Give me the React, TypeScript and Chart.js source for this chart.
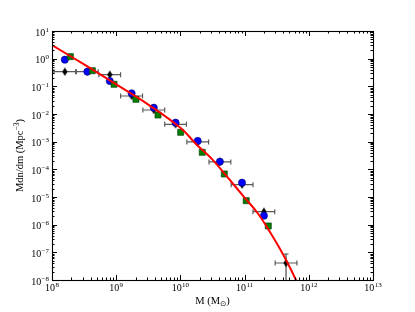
import React, { useEffect, useRef } from "react";
import { Chart, registerables } from "chart.js";

Chart.register(...registerables);

// ---- data (masses in solar masses, densities in Mpc^-3) ----
const binCenters = [1.585e8, 3.55e8, 7.94e8, 1.74e9, 3.85e9, 8.41e9, 1.86e10, 4.12e10, 9.12e10, 2.0e11, 4.42e11];
const binLow = [1.07e8, 2.4e8, 5.37e8, 1.17e9, 2.6e9, 5.69e9, 1.26e10, 2.79e10, 6.17e10, 1.35e11, 2.99e11];
const binHigh = [2.34e8, 5.25e8, 1.17e9, 2.57e9, 5.69e9, 1.24e10, 2.75e10, 6.1e10, 1.35e11, 2.95e11, 6.53e11];
const blackVals = [0.338, 0.338, 0.264, 0.0448, 0.01396, 4.25e-3, 9.77e-4, 1.85e-4, 2.79e-5, 2.95e-6, 4.12e-8];
const blackErrLow: (number | null)[] = [null, null, null, null, null, null, null, null, null, null, 1e-12];
const blackErrHigh: (number | null)[] = [null, null, null, null, null, null, null, null, null, null, 8.7e-8];

const blueVals = [0.918, 0.338, 0.156, 0.056, 0.0169, 4.85e-3, 1.06e-3, 1.89e-4, 3.29e-5, 2.11e-6];

const greenMass = [1.93e8, 4.25e8, 9.25e8, 2.03e9, 4.48e9, 1.01e10, 2.19e10, 4.83e10, 1.06e11, 2.34e11];
const greenVals = [1.18, 0.367, 0.1186, 0.034, 9.2e-3, 2.18e-3, 4.13e-4, 6.8e-5, 7.36e-6, 8.97e-7];

const curveMass = [1e8, 3.16e8, 1e9, 3.16e9, 1e10, 1.78e10, 3.16e10, 5.62e10, 1e11, 1.58e11, 2.51e11, 3.55e11, 5.01e11, 6.31e11, 7.08e11];
const curveVals = [3.09, 0.617, 0.1175, 0.0219, 3.16e-3, 7.94e-4, 2.24e-4, 4.68e-5, 9.55e-6, 2.69e-6, 5.25e-7, 1.35e-7, 3.02e-8, 1e-8, 5.62e-9];

const xDecades = [8, 9, 10, 11, 12, 13];
const yDecades = [-8, -7, -6, -5, -4, -3, -2, -1, 0, 1];
const xTitle = "M (M";
const xTitleSub = "⊙";
const yTitle = "Mdn/dm (Mpc";
const yTitleSup = "−3";

const FONT = '"Liberation Serif", "DejaVu Serif", serif';

function makeDiamond(): HTMLCanvasElement {
  const c = document.createElement("canvas");
  c.width = 6;
  c.height = 9;
  const g = c.getContext("2d")!;
  g.fillStyle = "#000";
  g.beginPath();
  g.moveTo(3, 0.3);
  g.lineTo(5.6, 4.5);
  g.lineTo(3, 8.7);
  g.lineTo(0.4, 4.5);
  g.closePath();
  g.fill();
  return c;
}

function drawPow(ctx: CanvasRenderingContext2D, exp: number, x: number, baseline: number, align: "center" | "right") {
  const base = "10";
  const sup = exp < 0 ? "−" + String(-exp) : String(exp);
  ctx.font = `10px ${FONT}`;
  const bw = ctx.measureText(base).width;
  ctx.font = `7px ${FONT}`;
  const sw = ctx.measureText(sup).width;
  const total = bw + sw + 0.3;
  const x0 = align === "center" ? x - total / 2 : x - total;
  ctx.textAlign = "left";
  ctx.textBaseline = "alphabetic";
  ctx.fillStyle = "#000";
  ctx.font = `10px ${FONT}`;
  ctx.fillText(base, x0, baseline);
  ctx.font = `7px ${FONT}`;
  ctx.fillText(sup, x0 + bw + 0.3, baseline - 4);
}

const mplPlugin = {
  id: "mplAxes",
  beforeDatasetsDraw(chart: any) {
    const { ctx, chartArea: a, scales } = chart;
    const xs = scales.x;
    const ys = scales.y;
    ctx.save();
    ctx.beginPath();
    ctx.rect(a.left, a.top, a.right - a.left, a.bottom - a.top);
    ctx.clip();
    ctx.lineWidth = 1.2;
    for (let i = 0; i < binCenters.length; i++) {
      const y = ys.getPixelForValue(blackVals[i]);
      const x1 = xs.getPixelForValue(binLow[i]);
      const x2 = xs.getPixelForValue(binHigh[i]);
      ctx.strokeStyle = "#5a5a5a";
      ctx.beginPath();
      ctx.moveTo(x1, y);
      ctx.lineTo(x2, y);
      ctx.moveTo(x1, y - 2.5);
      ctx.lineTo(x1, y + 2.5);
      ctx.moveTo(x2, y - 2.5);
      ctx.lineTo(x2, y + 2.5);
      ctx.stroke();
      const lo = blackErrLow[i];
      const hi = blackErrHigh[i];
      if (lo !== null && hi !== null) {
        const x = xs.getPixelForValue(binCenters[i]);
        const yl = ys.getPixelForValue(lo);
        const yh = ys.getPixelForValue(hi);
        ctx.strokeStyle = "#4a4a4a";
        ctx.beginPath();
        ctx.moveTo(x, yl);
        ctx.lineTo(x, yh);
        ctx.moveTo(x - 2.5, yh);
        ctx.lineTo(x + 2.5, yh);
        ctx.stroke();
      }
    }
    ctx.restore();
  },
  afterDraw(chart: any) {
    const { ctx, chartArea: a, scales } = chart;
    const xs = scales.x;
    const ys = scales.y;
    ctx.save();
    ctx.strokeStyle = "#000";
    ctx.lineWidth = 1;
    // ticks
    ctx.beginPath();
    for (const d of xDecades) {
      const px = Math.round(xs.getPixelForValue(Math.pow(10, d))) + 0.5;
      ctx.moveTo(px, a.bottom);
      ctx.lineTo(px, a.bottom - 5);
      ctx.moveTo(px, a.top);
      ctx.lineTo(px, a.top + 5);
      if (d < 13) {
        for (let k = 2; k <= 9; k++) {
          const mx = Math.round(xs.getPixelForValue(k * Math.pow(10, d))) + 0.5;
          ctx.moveTo(mx, a.bottom);
          ctx.lineTo(mx, a.bottom - 2.5);
          ctx.moveTo(mx, a.top);
          ctx.lineTo(mx, a.top + 2.5);
        }
      }
    }
    for (const d of yDecades) {
      const py = Math.round(ys.getPixelForValue(Math.pow(10, d))) + 0.5;
      ctx.moveTo(a.left, py);
      ctx.lineTo(a.left + 5, py);
      ctx.moveTo(a.right, py);
      ctx.lineTo(a.right - 5, py);
      if (d < 1) {
        for (let k = 2; k <= 9; k++) {
          const my = Math.round(ys.getPixelForValue(k * Math.pow(10, d))) + 0.5;
          ctx.moveTo(a.left, my);
          ctx.lineTo(a.left + 2.5, my);
          ctx.moveTo(a.right, my);
          ctx.lineTo(a.right - 2.5, my);
        }
      }
    }
    ctx.stroke();
    // frame
    ctx.lineWidth = 1.1;
    ctx.strokeRect(Math.round(a.left) + 0.5, Math.round(a.top) + 0.5, Math.round(a.right - a.left), Math.round(a.bottom - a.top));
    // tick labels
    for (const d of xDecades) {
      drawPow(ctx, d, xs.getPixelForValue(Math.pow(10, d)), a.bottom + 10.5, "center");
    }
    for (const d of yDecades) {
      drawPow(ctx, d, a.left - 3, ys.getPixelForValue(Math.pow(10, d)) + 4.5, "right");
    }
    // x title
    ctx.fillStyle = "#000";
    ctx.textAlign = "left";
    ctx.textBaseline = "alphabetic";
    ctx.font = `10.5px ${FONT}`;
    const w1 = ctx.measureText(xTitle).width;
    ctx.font = `7.5px DejaVu Sans, ${FONT}`;
    const w2 = ctx.measureText(xTitleSub).width;
    ctx.font = `10.5px ${FONT}`;
    const w3 = ctx.measureText(")").width;
    const cx = (a.left + a.right) / 2;
    let tx = cx - (w1 + w2 + w3) / 2;
    const tb = a.bottom + 23.5;
    ctx.fillText(xTitle, tx, tb);
    ctx.font = `7.5px DejaVu Sans, ${FONT}`;
    ctx.fillText(xTitleSub, tx + w1, tb + 2);
    ctx.font = `10.5px ${FONT}`;
    ctx.fillText(")", tx + w1 + w2, tb);
    // y title
    ctx.save();
    ctx.translate(23, (a.top + a.bottom) / 2);
    ctx.rotate(-Math.PI / 2);
    ctx.font = `10.5px ${FONT}`;
    const v1 = ctx.measureText(yTitle).width;
    ctx.font = `7.5px ${FONT}`;
    const v2 = ctx.measureText(yTitleSup).width;
    ctx.font = `10.5px ${FONT}`;
    const v3 = ctx.measureText(")").width;
    const sx = -(v1 + v2 + v3) / 2;
    ctx.fillText(yTitle, sx, 0);
    ctx.font = `7.5px ${FONT}`;
    ctx.fillText(yTitleSup, sx + v1, -4);
    ctx.font = `10.5px ${FONT}`;
    ctx.fillText(")", sx + v1 + v2, 0);
    ctx.restore();
    ctx.restore();
  },
};

export default function App() {
  const ref = useRef<HTMLCanvasElement | null>(null);
  useEffect(() => {
    if (!ref.current) return;
    const diamond = makeDiamond();
    const chart = new Chart(ref.current, {
      type: "scatter",
      data: {
        datasets: [
          {
            type: "line",
            label: "fit",
            data: curveMass.map((m, i) => ({ x: m, y: curveVals[i] })),
            borderColor: "#ff0000",
            borderWidth: 2,
            pointRadius: 0,
            fill: false,
            tension: 0.4,
            order: 0,
          } as any,
          {
            label: "green",
            data: greenMass.map((m, i) => ({ x: m, y: greenVals[i] })),
            pointStyle: "rect",
            pointRadius: 4.3,
            backgroundColor: "#008000",
            borderColor: "#003300",
            borderWidth: 0.6,
            order: 1,
          },
          {
            label: "blue",
            data: blueVals.map((v, i) => ({ x: binCenters[i], y: v })),
            pointStyle: "circle",
            pointRadius: 3.6,
            backgroundColor: "#0000ff",
            borderColor: "#000066",
            borderWidth: 0.6,
            order: 2,
          },
          {
            label: "black",
            data: blackVals.map((v, i) => ({ x: binCenters[i], y: v })),
            pointStyle: diamond as any,
            pointRadius: 3,
            backgroundColor: "#000",
            borderColor: "#000",
            order: 3,
          },
        ],
      },
      options: {
        animation: false,
        responsive: false,
        events: [],
        layout: { padding: { left: 52, top: 31, right: 42, bottom: 32 } },
        plugins: { legend: { display: false }, tooltip: { enabled: false } },
        scales: {
          x: { type: "logarithmic", min: 1e8, max: 1e13, display: false },
          y: { type: "logarithmic", min: 1e-8, max: 10, display: false },
        },
      },
      plugins: [mplPlugin],
    });
    return () => chart.destroy();
  }, []);
  return (
    <div style={{ position: "fixed", left: 0, top: 0, width: 415, height: 312, background: "#fff" }}>
      <canvas ref={ref} width={415} height={312} style={{ display: "block" }} />
    </div>
  );
}
